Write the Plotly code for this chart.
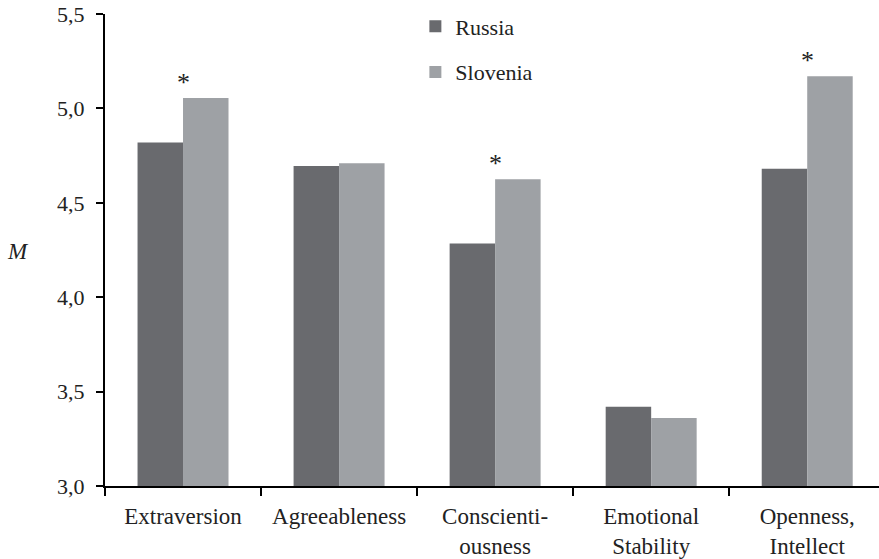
import plotly.graph_objects as go

# Big Five trait means by country
traits = ["Extraversion", "Agreeableness", "Conscienti-<br>ousness",
          "Emotional<br>Stability", "Openness,<br>Intellect"]
russia = [4.82, 4.695, 4.285, 3.42, 4.68]
slovenia = [5.055, 4.71, 4.625, 3.36, 5.17]
significant = [True, False, True, False, True]

y_ticks = [3.0, 3.5, 4.0, 4.5, 5.0, 5.5]

serif = "Liberation Serif, Times New Roman, serif"

fig = go.Figure()
fig.add_trace(go.Bar(name="Russia", x=traits, y=russia,
                     marker=dict(color="#696a6e", line=dict(width=0)),
                     legendgroup="ru"))
fig.add_trace(go.Bar(name="Slovenia", x=traits, y=slovenia,
                     marker=dict(color="#9ea1a5", line=dict(width=0)),
                     legendgroup="sl"))

# asterisks mark significant country differences
for t, v, s in zip(traits, slovenia, significant):
    if s:
        fig.add_annotation(x=t, y=v, text="*", showarrow=False,
                           xref="x", yref="y", xanchor="center", yanchor="middle",
                           yshift=16,
                           font=dict(family=serif, size=26, color="#222"))

fig.add_annotation(x=-0.112, y=0.496, xref="paper", yref="paper",
                   xanchor="center", yanchor="middle",
                   text="<i>M</i>", showarrow=False,
                   font=dict(family=serif, size=23, color="#222"))

fig.update_layout(
    width=879, height=559,
    margin=dict(l=105, r=0, t=14, b=73),
    paper_bgcolor="white", plot_bgcolor="white",
    barmode="group", bargap=0.417, bargroupgap=0,
    separators=",.",
    font=dict(family=serif, size=21, color="#222"),
    legend=dict(x=0.401, y=1.018, xanchor="left", yanchor="top",
                tracegroupgap=14, font=dict(family=serif, size=22, color="#222"),
                bgcolor="rgba(0,0,0,0)"),
    xaxis=dict(range=[-0.5, 4.46], showline=True, linecolor="black", linewidth=2,
               ticks="outside", tickson="boundaries", ticklen=8, tickwidth=1.5,
               tickcolor="black", showgrid=False, zeroline=False,
               ticklabelstandoff=8, automargin=False,
               tickfont=dict(family=serif, size=23, color="#222")),
    yaxis=dict(range=[3.0, 5.5], tickvals=y_ticks, tickformat=".1f",
               showline=True, linecolor="black", linewidth=2,
               ticks="outside", ticklen=7, tickwidth=1.5, tickcolor="black",
               showgrid=False, zeroline=False, ticklabelstandoff=7,
               automargin=False,
               tickfont=dict(family=serif, size=22, color="#222")),
)

fig.write_html("out.html")
